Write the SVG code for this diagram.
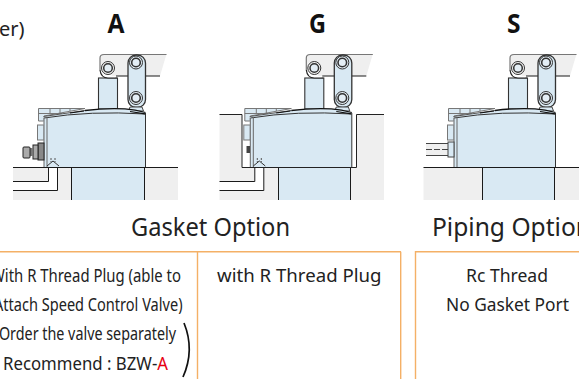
<svg xmlns="http://www.w3.org/2000/svg" width="579" height="379" viewBox="0 0 579 379">
<style>
text{font-family:"Noto Sans","Open Sans",sans-serif;fill:#222}
.h{font-family:"Open Sans","Noto Sans",sans-serif;font-size:26px;font-weight:700;fill:#111}
.t{font-size:26px}
.b{font-size:18.500px}
.c{text-anchor:middle}
.g{fill:#efefef;stroke:none}
.bl{fill:#d9e9f3;stroke:none}
.s{fill:none;stroke:#1a1a1a;stroke-width:1}
.sb{fill:#d9e9f3;stroke:#333;stroke-width:1.100}
.o{fill:none;stroke:#f4b066;stroke-width:1.400}
.gy{fill:#d9e9f3;stroke:#777;stroke-width:1}
</style>
<defs>
<g id="clamp">
<path class="g" d="M103 54H166.500L160 76H112L100.500 70V58Z"/>
<path d="M166.500 54.500H104Q100 54.500 100 58V70" fill="none" stroke="#777" stroke-width="1.200"/>
<path class="s" d="M116 76H160"/>
<rect class="sb" x="98.500" y="78" width="19" height="31"/>
<path d="M100 70Q101 78 108 78H117" fill="#fff" stroke="#222" stroke-width="1.200"/>
<circle cx="108" cy="68" r="6.500" fill="#f4f4f4" stroke="#333" stroke-width="1"/>
<circle cx="108" cy="68" r="4.300" fill="#e4eef5" stroke="#333" stroke-width="1.500"/>
<rect x="128" y="55" width="17.500" height="52.500" rx="8" class="sb" style="stroke-width:1.300"/>
<circle cx="136" cy="62.500" r="6.500" fill="#e4eef5" stroke="#333" stroke-width="1"/>
<circle cx="136" cy="62.500" r="4.300" fill="#e4eef5" stroke="#333" stroke-width="1.600"/>
<circle cx="136" cy="98" r="6.500" fill="#e4eef5" stroke="#333" stroke-width="1"/>
<circle cx="136" cy="98" r="4.300" fill="#e4eef5" stroke="#333" stroke-width="1.600"/>
<path d="M130 107H142L143.500 111H128.500Z" fill="#d9e9f3" stroke="#444" stroke-width="1"/>
<path class="gy" d="M38.500 108.500H85L44 116V121H38.500Z"/>
<path d="M38.500 113.500H62M50 108.500V113M60 108.500V113M70 108.500V111" stroke="#777" stroke-width="1" fill="none"/>
<rect class="gy" x="37.500" y="125" width="6.500" height="15"/>
<path d="M43.500 116.500L85 110.500Q105 107.800 125 108.800Q135 109.500 145.500 112.500V167H44Z" fill="#d9e9f3"/>
<path d="M43.500 116.500L85 110.500" fill="none" stroke="#555" stroke-width="1"/>
<path d="M85 110.500Q105 107.800 125 108.800Q135 109.500 145.500 112.500" fill="none" stroke="#111" stroke-width="1.300"/>
<path d="M44 118Q90 110.500 145.500 114" fill="none" stroke="#333" stroke-width="1"/>
<path d="M70 113L84 111M130 111.500L145 113.800" fill="none" stroke="#111" stroke-width="1.200"/>
<path d="M44 118V167M47 117V167" fill="none" stroke="#666" stroke-width="1"/>
<path d="M145.500 113V167" fill="none" stroke="#333" stroke-width="1"/>
</g>
</defs>
<g id="labels">
<text x="-1" y="36" style="font-size:20px">er)</text>
<text class="h" x="107.500" y="33" textLength="17" lengthAdjust="spacingAndGlyphs">A</text>
<text class="h" x="309" y="33" textLength="17" lengthAdjust="spacingAndGlyphs">G</text>
<text class="h" x="507" y="33" textLength="13.500" lengthAdjust="spacingAndGlyphs">S</text>
</g>
<g id="option-a">
<rect class="g" x="13" y="167" width="59" height="33"/>
<rect class="g" x="145" y="167" width="33" height="33"/>
<rect class="bl" x="72" y="167" width="73" height="33"/>
<path fill="#fff" d="M13 181.500H48.500V167.500H57.500V190.500H13Z"/>
<path class="s" d="M71.500 167V200M144.500 167V200"/>
<use href="#clamp"/>
<path class="s" d="M13 167.500H178M13 181.500H48.500V167.500M13 190.500H57.500V167.500"/>
<path d="M47 166L53 161L59 166" fill="none" stroke="#333" stroke-width="1"/>
<path d="M51 158V162M55 158V162" stroke="#555" stroke-width="1" stroke-dasharray="2 1"/>
<rect x="38" y="143" width="6" height="17" fill="#888" stroke="#222"/>
<rect x="33" y="145" width="5" height="14" fill="#aaa" stroke="#222"/>
<rect x="30" y="148" width="3" height="8" fill="#777"/>
<rect x="23" y="147" width="7" height="11" rx="1" fill="#aaa" stroke="#222"/>
</g>
<g id="option-g">
<path class="g" d="M219.500 114.500H242V167H278.500V200H219.500Z"/>
<path class="g" d="M356.500 114.500H384V200H351V167H356.500Z"/>
<rect class="bl" x="278.500" y="167" width="72.500" height="33"/>
<path fill="#fff" d="M219.500 181.500H254.800V167.500H263.800V190.500H219.500Z"/>
<path class="s" d="M278.500 167V200M350.500 167V200"/>
<use href="#clamp" x="206.300"/>
<path d="M219.500 114.500H242V167.500H356.500V114.500H384" fill="none" stroke="#222" stroke-width="1"/>
<path class="s" d="M219.500 181.500H254.800V167.500M219.500 190.500H263.800V167.500"/>
<path d="M253.300 166L259.300 161L265.300 166" fill="none" stroke="#333" stroke-width="1"/>
<path d="M257.300 158V162M261.300 158V162" stroke="#555" stroke-width="1" stroke-dasharray="2 1"/>
<rect x="246.500" y="146" width="3.500" height="7" fill="#444"/>
</g>
<g id="option-s">
<rect class="g" x="423.500" y="167" width="59" height="33"/>
<rect class="g" x="555" y="167" width="24" height="33"/>
<rect class="bl" x="482.500" y="167" width="72" height="33"/>
<path class="s" d="M482.500 167V200M554.500 167V200"/>
<use href="#clamp" x="410"/>
<rect class="g" x="426" y="143.500" width="22" height="12"/>
<rect x="448" y="142" width="6" height="15" fill="#d9e9f3" stroke="#444"/>
<path d="M426 143.500H448M426 155.500H448" stroke="#444" stroke-width="1" fill="none"/>
<path d="M426 149.500H448" stroke="#444" stroke-width="1" stroke-dasharray="6 2"/>
<path class="s" d="M423.500 167.500H579"/>
</g>
<g id="captions">
<text class="t" x="131" y="236" textLength="159" lengthAdjust="spacingAndGlyphs">Gasket Option</text>
<text class="t" x="432" y="236" textLength="159" lengthAdjust="spacingAndGlyphs">Piping Option</text>
</g>
<g id="table">
<path class="o" d="M0 251.700H401M197.500 251.700V379M400.700 251.700V379M415.500 379V251.700H579"/>
<text class="b" x="-9" y="282" textLength="190" lengthAdjust="spacingAndGlyphs">With R Thread Plug (able to</text>
<text class="b" x="-6" y="311" textLength="188.500" lengthAdjust="spacingAndGlyphs">Attach Speed Control Valve)</text>
<text class="b" x="-9" y="340" textLength="185" lengthAdjust="spacingAndGlyphs">*Order the valve separately</text>
<text class="b" x="3" y="370" textLength="165" lengthAdjust="spacingAndGlyphs">Recommend : BZW-<tspan style="fill:#e60012">A</tspan></text>
<path d="M184 323Q195 350 183 377" fill="none" stroke="#111" stroke-width="1.700"/>
<text class="b" x="217" y="282" textLength="164.500" lengthAdjust="spacingAndGlyphs">with R Thread Plug</text>
<text class="b c" x="507" y="282" textLength="82" lengthAdjust="spacingAndGlyphs">Rc Thread</text>
<text class="b c" x="507.500" y="311" textLength="123" lengthAdjust="spacingAndGlyphs">No Gasket Port</text>
</g>
</svg>
